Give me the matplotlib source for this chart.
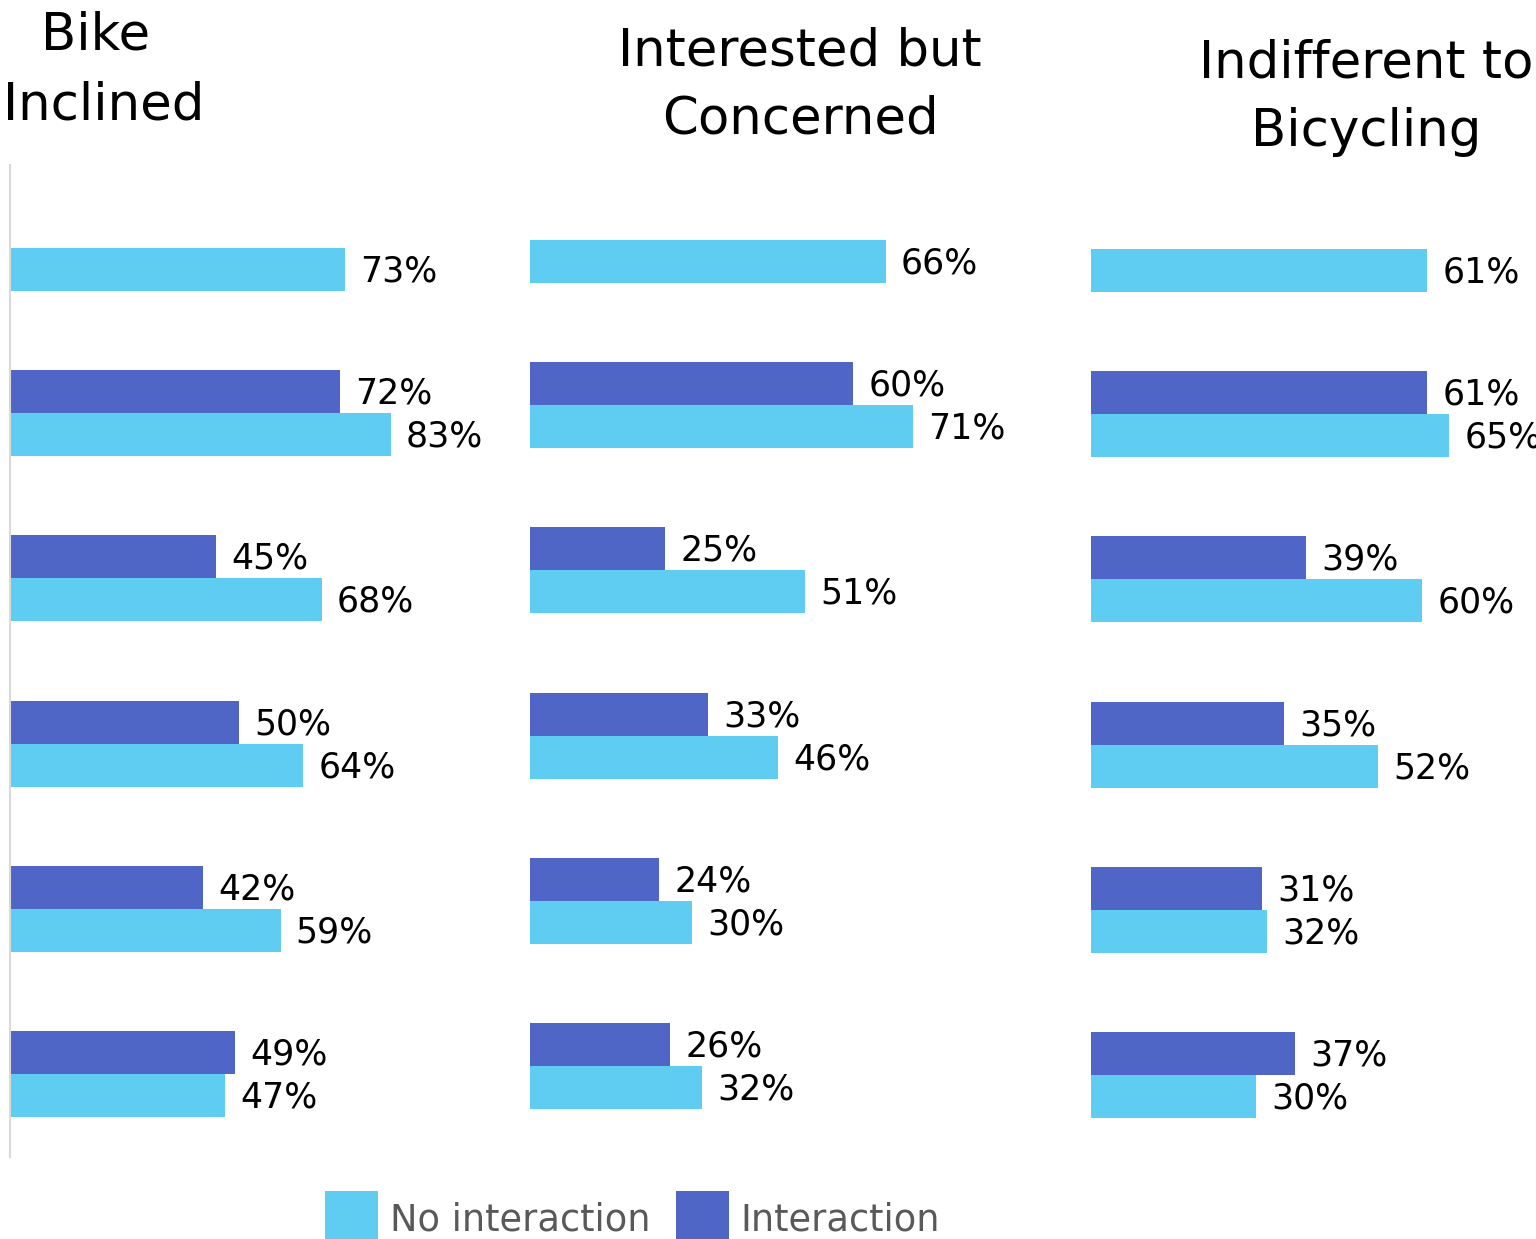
""" Share of respondents by rider type, with and without interaction """
import numpy as np
import matplotlib.pyplot as plt
from matplotlib.patches import Patch

# rider groups (one panel each)
group_titles = [["Bike", "Inclined"],
                ["Interested but", "Concerned"],
                ["Indifferent to", "Bicycling"]]

# six questions per panel, top to bottom; the first row has no "interaction" value
no_interaction = [[73, 83, 68, 64, 59, 47],
                  [66, 71, 51, 46, 30, 32],
                  [61, 65, 60, 52, 32, 30]]
interaction = [[None, 72, 45, 50, 42, 49],
               [None, 60, 25, 33, 24, 26],
               [None, 61, 39, 35, 31, 37]]

legend_labels = ["No interaction", "Interaction"]

LIGHT = "#5fcdf2"
DARK = "#4f66c6"

W, H = 1536, 1239
fig = plt.figure(figsize=(W / 100, H / 100), dpi=100)
plt.rcParams['font.family'] = ['DejaVu Sans']


def px_axes(left, top, width, height):
    """ 以像素为单位添加坐标轴（原点在左上角） """
    return fig.add_axes([left / W, 1 - (top + height) / H, width / W, height / H])


# 每个面板: 左边界, 上边界, 每个百分点的像素宽度
panels = [(10, 165, 4.585), (530, 157, 5.39), (1091, 166, 5.515)]
title_x = [(95.5, 104), (800, 800), (1366, 1366)]
title_base = [(50, 120), (66, 134), (78, 146)]

bar_h = 0.26
rows = np.arange(6)

for i, (left, top, scale) in enumerate(panels):
    ax = px_axes(left, top, 100 * scale, 992)
    ax.set_xlim(0, 100)
    ax.set_ylim(5.5, -0.5)

    light = no_interaction[i]
    ax.barh(rows + bar_h / 2, light, height=bar_h, color=LIGHT, edgecolor='none')
    dark_rows = [r for r in rows if interaction[i][r] is not None]
    dark = [interaction[i][r] for r in dark_rows]
    ax.barh(np.array(dark_rows) - bar_h / 2, dark, height=bar_h, color=DARK, edgecolor='none')

    # 数值标签，放在条形右侧
    for r, v in zip(rows, light):
        ax.annotate(f"{v}%", xy=(v, r + bar_h / 2), xytext=(11, -1.5), textcoords='offset points',
                    ha='left', va='center', fontsize=25, color='black', annotation_clip=False)
    for r, v in zip(dark_rows, dark):
        ax.annotate(f"{v}%", xy=(v, r - bar_h / 2), xytext=(11, -1.5), textcoords='offset points',
                    ha='left', va='center', fontsize=25, color='black', annotation_clip=False)

    ax.set_xticks([])
    ax.set_yticks([])
    for side in ['top', 'right', 'bottom', 'left']:
        ax.spines[side].set_visible(False)
    if i == 0:
        ax.spines['left'].set_visible(True)
        ax.spines['left'].set_color('#d9d9d9')
        ax.spines['left'].set_linewidth(1.5)

    # 两行标题
    for line, x, base in zip(group_titles[i], title_x[i], title_base[i]):
        fig.text(x / W, 1 - base / H, line, ha='center', va='baseline',
                 fontsize=37, color='black')

handles = [Patch(facecolor=LIGHT, edgecolor='none'), Patch(facecolor=DARK, edgecolor='none')]
fig.legend(handles, legend_labels, loc='lower left', bbox_to_anchor=(325 / W, -6 / H),
           ncol=2, frameon=False, fontsize=26.5, labelcolor='#595959',
           handlelength=1.44, handleheight=1.86, handletextpad=0.33,
           columnspacing=0.68, borderpad=0, borderaxespad=0)

fig.savefig("out.png", dpi=100)
